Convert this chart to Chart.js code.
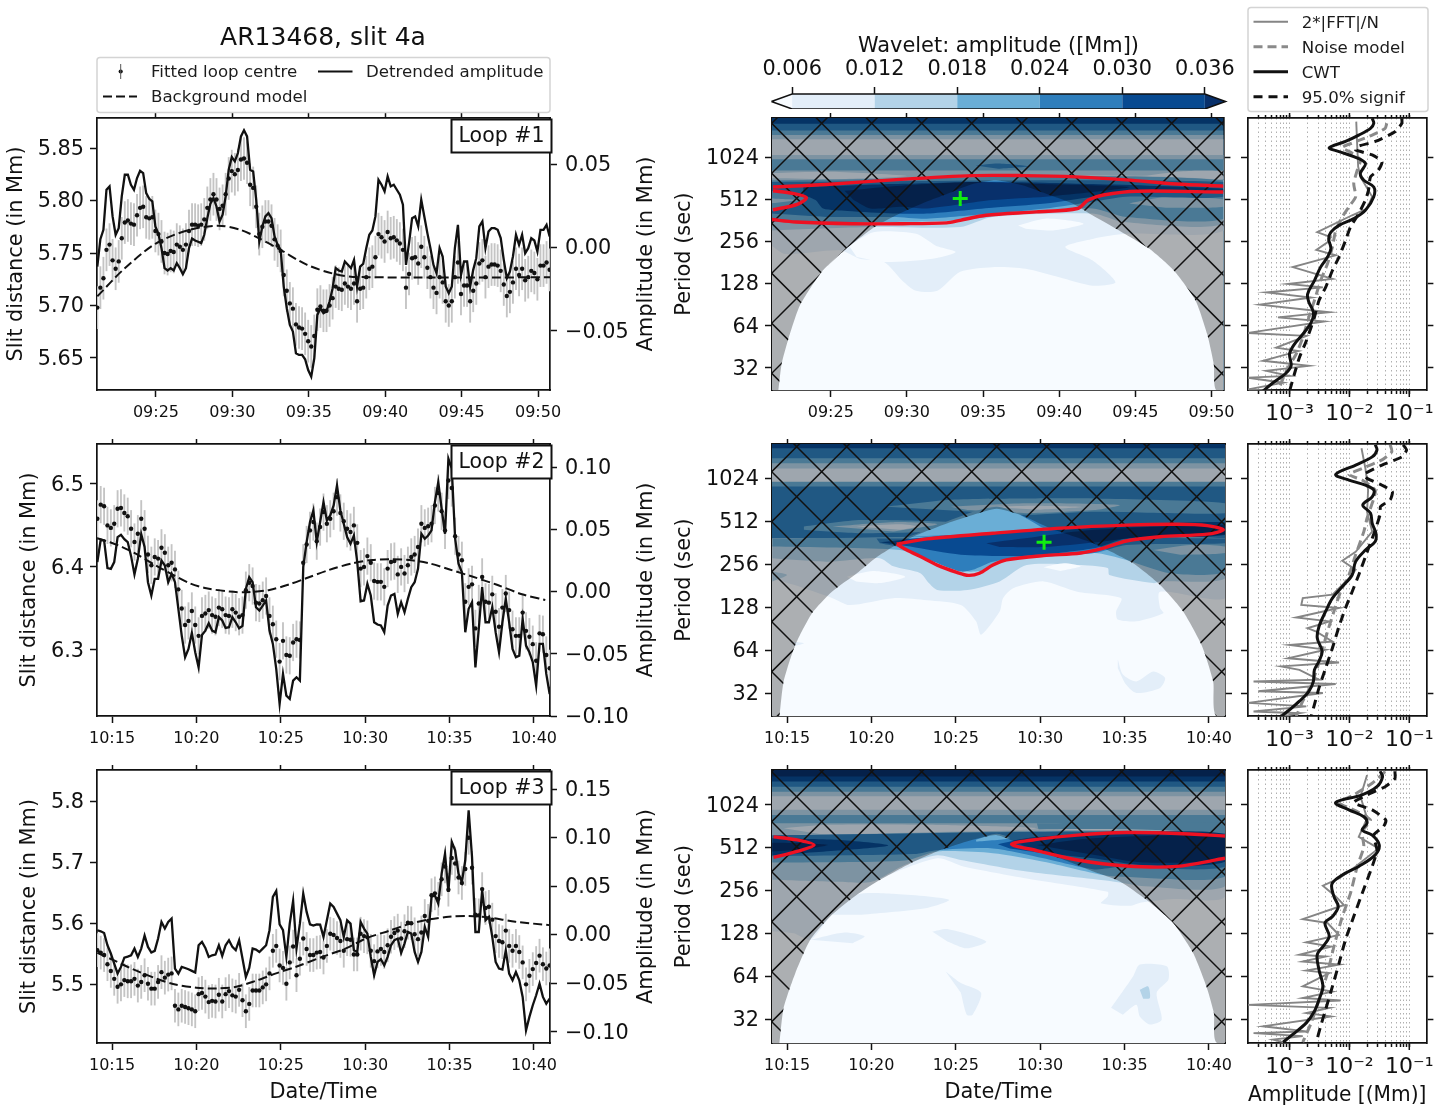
<!DOCTYPE html>
<html>
<head>
<meta charset="utf-8">
<title>AR13468, slit 4a</title>
<script src="https://cdn.jsdelivr.net/npm/chart.js@4"></script>
<style>
body { margin: 0; background: #fff; }
canvas { position: absolute; filter: blur(0.35px); }
</style>
</head>
<body>
<script>
// Time axes are minutes since midnight, period axes are log2(seconds)
const CADENCE = 0.2;
const timeTicks1 = [565, 570, 575, 580, 585, 590];
const timeTicks23 = [615, 620, 625, 630, 635, 640];
const periodTicks = [32, 64, 128, 256, 512, 1024];
const ampTicks = [1e-3, 1e-2, 1e-1];
const colorbarLevels = [0.006, 0.012, 0.018, 0.024, 0.030, 0.036];

// Loop #1
const loop1Start = 561.16;
const loop1Err = 0.02;
const loop1Amp = [-.0114,.005,.0106,.0346,.0366,.0186,.0076,.0116,.0306,.0436,.0436,.0376,.0346,.0416,.046,.0446,.0326,.0292,.0276,.0126,.0082,-.0004,-.0124,-.0138,-.0124,-.0138,-.0094,-.0124,-.016,-.0124,-.0004,.0054,.0042,.0034,.0026,.0076,.0176,.0262,.0296,.0246,.0156,.0196,.0306,.0466,.0542,.0516,.0566,.0666,.0702,.0666,.0466,.0456,.0286,.0036,.0126,.0186,.0206,.0176,.0066,.0016,-.0014,-.0234,-.0364,-.0464,-.0504,-.0634,-.0644,-.0644,-.067,-.0734,-.0774,-.0664,-.0404,-.0364,-.0394,-.0384,-.0324,-.0244,-.0124,-.0138,-.0144,-.0084,-.0104,-.0124,-.0074,-.0234,-.0114,-.0098,-.0004,.0076,.0102,.0186,.0406,.0376,.0336,.0426,.0366,.0376,.0346,.0316,.0256,-.0104,.0026,.0176,.0186,.0126,.0286,.0186,.0086,-.0004,-.0104,-.0154,-.0004,-.0054,-.0234,-.0274,-.0234,-.0004,.0136,-.0164,-.0084,-.0084,-.0234,-.0134,-.0064,.0126,.0156,-.0004,.0096,.0116,.0116,.0106,.0056,-.0074,-.0184,-.0144,-.0054,.0076,.0016,.0076,-.0034,-.0004,.0056,.0042,-.0024,.0106,.0106,.0136,.0066];
const loop1Fit = [5.698,5.717,5.726,5.753,5.758,5.743,5.735,5.742,5.764,5.779,5.781,5.778,5.777,5.786,5.793,5.794,5.784,5.783,5.784,5.771,5.768,5.761,5.750,5.749,5.752,5.751,5.758,5.756,5.753,5.758,5.771,5.777,5.777,5.776,5.777,5.782,5.793,5.801,5.806,5.801,5.792,5.795,5.806,5.821,5.828,5.825,5.829,5.839,5.840,5.836,5.815,5.812,5.794,5.768,5.775,5.780,5.780,5.776,5.763,5.757,5.752,5.729,5.714,5.702,5.697,5.682,5.679,5.678,5.673,5.666,5.661,5.671,5.696,5.699,5.695,5.695,5.700,5.707,5.718,5.716,5.715,5.721,5.718,5.716,5.721,5.704,5.716,5.717,5.727,5.735,5.737,5.746,5.768,5.765,5.761,5.770,5.764,5.765,5.762,5.759,5.753,5.717,5.730,5.745,5.746,5.740,5.756,5.746,5.736,5.727,5.717,5.712,5.727,5.722,5.704,5.700,5.704,5.727,5.741,5.711,5.719,5.719,5.704,5.714,5.721,5.740,5.743,5.727,5.737,5.739,5.739,5.738,5.733,5.720,5.709,5.713,5.722,5.735,5.729,5.735,5.724,5.727,5.733,5.731,5.725,5.738,5.738,5.741,5.734];
const loop1BgTime = [561.16,562.86,565.04,567.23,569.08,570.5,571.59,573.12,574.86,576.61,578.13,590.83];
const loop1BgValue = [5.7087,5.7341,5.7595,5.7722,5.776,5.7722,5.7652,5.7532,5.7389,5.7303,5.7271,5.7268];

// Loop #2
const loop2Start = 614.13;
const loop2Err = 0.022;
const loop2Amp = [.0236,.0416,.041,.0188,.0182,.0236,.0437,.0456,.0421,.0397,.0284,.0137,.0263,.0461,.0357,.0075,-.0032,.0102,.0102,.0249,.0209,.0075,.0142,.0075,-.0139,-.0354,-.0528,-.0461,-.0332,-.0488,-.0609,-.0349,-.0314,-.0255,-.0314,-.0327,-.0206,-.0233,-.0292,-.0287,-.0206,-.0247,-.0295,-.0276,.0021,.0115,.0075,-.0126,-.0153,-.0113,-.0072,-.0314,-.0421,-.0622,-.0903,-.0662,-.0836,-.0863,-.0716,-.0689,-.0716,.0196,.0397,.0558,.0651,.0397,.0558,.0718,.0571,.0611,.0692,.0853,.0651,.0544,.0437,.0383,.045,.0236,-.0078,-.0072,.0062,-.0032,-.0247,-.0265,-.0273,-.0327,-.0113,-.0032,-.0019,-.018,-.0086,-.0166,-.0059,.0035,.0075,.0182,.0464,.0424,.045,.0491,.0718,.0879,.0665,.0464,.1067,.0987,.0424,.0223,.0155,-.0327,-.0139,-.0086,-.0609,-.03,.0035,-.0247,-.0247,-.0126,-.0327,-.0488,-.0247,-.0059,-.0247,-.0461,-.0528,-.0515,-.022,-.0434,-.0488,-.0568,-.0756,-.0421,-.0421,-.0662,-.0823];
const loop2Fit = [6.458,6.475,6.473,6.450,6.447,6.452,6.470,6.471,6.465,6.461,6.446,6.430,6.440,6.458,6.446,6.415,6.402,6.412,6.410,6.423,6.417,6.402,6.405,6.397,6.373,6.350,6.330,6.335,6.347,6.330,6.317,6.341,6.344,6.348,6.342,6.340,6.351,6.349,6.342,6.341,6.349,6.345,6.340,6.342,6.372,6.381,6.377,6.357,6.356,6.360,6.365,6.341,6.331,6.313,6.286,6.311,6.294,6.293,6.309,6.313,6.312,6.405,6.427,6.444,6.454,6.431,6.448,6.466,6.452,6.458,6.467,6.484,6.465,6.455,6.446,6.442,6.450,6.429,6.398,6.400,6.413,6.405,6.383,6.382,6.382,6.376,6.398,6.406,6.407,6.391,6.400,6.392,6.402,6.412,6.415,6.424,6.452,6.447,6.449,6.452,6.474,6.489,6.467,6.444,6.504,6.495,6.437,6.415,6.408,6.358,6.376,6.379,6.326,6.356,6.388,6.358,6.357,6.367,6.346,6.328,6.351,6.368,6.348,6.325,6.317,6.317,6.345,6.323,6.316,6.307,6.287,6.320,6.319,6.294,6.278];
const loop2BgTime = [614.13,614.88,615.67,616.46,617.64,618.62,619.61,620.59,621.97,622.95,624.33,625.51,626.5,627.87,629.25,630.43,631.42,632.6,633.78,634.96,636.34,637.72,639.29,640.67];
const loop2BgValue = [6.4345,6.4297,6.4233,6.4153,6.4012,6.3904,6.3803,6.3743,6.3703,6.3695,6.3723,6.3791,6.3863,6.3964,6.4044,6.4084,6.4092,6.4084,6.4044,6.3972,6.3884,6.3791,6.3671,6.3602];

// Loop #3
const loop3Start = 614.13;
const loop3Err = 0.027;
const loop3Amp = [.0045,.0034,.0017,-.011,-.0195,-.0299,-.0402,-.0333,-.0237,-.0227,-.0213,-.0144,-.023,-.0144,-.001,-.0127,-.0185,-.0168,-.0041,.013,.0062,.013,.0165,-.035,-.0402,-.0333,-.0344,-.0357,-.0374,-.0391,-.011,-.0076,-.0137,-.023,-.0213,-.0206,-.011,-.022,-.011,-.0058,-.0127,-.0161,-.0058,-.0247,-.0436,-.0344,-.0144,-.0155,-.0179,-.0144,-.011,.0045,.0388,.045,.0106,.0045,-.023,.0113,.0347,-.0144,.0113,.0422,.0234,.0106,.0093,.0106,.0103,-.0024,.0148,.0319,.0285,.0216,.0148,-.0024,.0148,.0113,-.0161,-.0179,.013,.0062,.001,-.023,-.0419,-.0282,-.0254,-.0316,-.023,-.011,-.0058,-.0041,-.0189,-.0093,.0027,.001,-.0179,-.0282,-.0179,.0079,-.0024,.0388,.0405,.0319,.0628,.0834,.044,.0955,.0869,.0628,.0543,.0766,.128,.08,.0027,.0027,.0457,.0148,.0182,-.0024,-.0282,-.035,-.0361,-.0161,-.0402,-.0471,-.0385,-.0471,-.0642,-.0986,-.0848,-.0728,-.0625,-.0505,-.0642,-.0711,-.0659];
const loop3Fit = [5.556,5.552,5.548,5.533,5.522,5.509,5.496,5.500,5.507,5.505,5.505,5.509,5.498,5.504,5.515,5.501,5.493,5.493,5.504,5.520,5.511,5.516,5.518,5.465,5.459,5.465,5.463,5.461,5.459,5.456,5.484,5.486,5.480,5.471,5.473,5.472,5.483,5.472,5.484,5.489,5.482,5.480,5.491,5.474,5.456,5.468,5.490,5.490,5.490,5.495,5.500,5.518,5.555,5.563,5.531,5.527,5.501,5.536,5.562,5.515,5.542,5.575,5.558,5.548,5.548,5.552,5.553,5.544,5.563,5.583,5.581,5.576,5.571,5.555,5.574,5.573,5.549,5.549,5.583,5.579,5.577,5.555,5.538,5.554,5.558,5.553,5.564,5.578,5.584,5.588,5.575,5.587,5.601,5.600,5.582,5.574,5.585,5.612,5.604,5.646,5.649,5.640,5.672,5.693,5.655,5.707,5.698,5.675,5.666,5.689,5.740,5.691,5.614,5.613,5.656,5.625,5.627,5.606,5.579,5.571,5.569,5.588,5.563,5.555,5.563,5.553,5.536,5.500,5.514,5.525,5.535,5.547,5.533,5.526,5.531];
const loop3BgTime = [614.13,615.28,616.26,617.44,618.62,620,621.18,622.36,623.54,624.72,625.91,627.48,628.86,630.04,631.42,632.6,633.78,634.96,636.14,637.32,638.9,640.91];
const loop3BgValue = [5.5518,5.5371,5.5245,5.5114,5.5005,5.4945,5.4934,5.4961,5.506,5.518,5.5289,5.5452,5.5589,5.5752,5.5878,5.5987,5.6063,5.6107,5.6118,5.6096,5.6025,5.597];

// Wavelet amplitude contours, [level, [[minute, log2 period], ...]]; levels index the colorbar bands
const wav1BandTops = [10.93,10.79,10.63,10.52,10.42,10.05,9.95,9.68,9.45];
const wav1BandLevels = [5,4,3,2,1,2,3,2,0];
const wav1Contours = [
  [1, [[585.5,9.55],[588,9.66],[590.8,9.65],[590.8,9.48],[588,9.48]]],
  [1, [[561.1,9.62],[565,9.65],[570,9.55],[566,9.48],[561.1,9.5]]],
  [4, [[574.5,9.8],[576,9.85],[578,9.78],[576,9.72]]],
  [1, [[561.1,9.45],[590.8,9.45],[590.8,8.26],[584.4,8.18],[582.2,8.06],[580.4,7.87],[582.2,7.55],[583.7,7.03],[582.2,6.95],[580,7.15],[577.8,7.35],[575.6,7.39],[573.5,7.28],[572,6.83],[570.6,6.83],[569.7,7.07],[568.5,7.51],[566.9,7.59],[565.6,7.79],[562,7.7],[561.1,7.9]]],
  [0, [[566.2,7.9],[567.8,8.22],[570.6,8.18],[571.9,7.9],[573.2,7.75],[571.7,7.59],[568.5,7.51],[566.7,7.63]]],
  [0, [[577.3,8.38],[579.1,8.54],[581.6,8.42],[579.6,8.26],[577.8,8.3]]],
  [2, [[561.1,9.45],[590.8,9.45],[590.8,8.42],[584.2,8.46],[582.2,8.66],[575.6,8.58],[573.5,8.34],[567.8,8.34],[561.1,8.26]]],
  [3, [[561.1,9.45],[590.8,9.45],[590.8,8.54],[584.4,8.58],[582.2,8.78],[577.8,8.7],[573.5,8.5],[569.1,8.46],[561.1,8.46]]],
  [2, [[584.6,8.9],[587,9.05],[590.8,9.0],[590.8,8.82],[587,8.8]]],
  [4, [[561.1,9.41],[590.8,9.41],[590.8,9.06],[584.4,9.06],[582.2,8.94],[579.1,8.78],[575.6,8.66],[571.3,8.54],[569.1,8.58],[564.7,8.58],[561.1,8.66]]],
  [3, [[561.1,9.2],[562.5,9.12],[563.3,9.02],[562.5,8.82],[561.1,8.72]]],
  [2, [[561.1,9.02],[562.8,8.98],[561.1,8.9]]],
  [5, [[563.2,9.29],[569.1,9.36],[575.6,9.41],[582.2,9.36],[590.8,9.25],[590.8,9.17],[584.4,9.17],[582.2,9.06],[579.1,8.9],[575.6,8.8],[571.3,8.66],[569.1,8.66],[566.1,8.72],[564.5,8.78],[564,8.98],[563.2,9.1]]],
  [6, [[565.9,9.2],[569.1,9.31],[574.3,9.41],[578.9,9.36],[584.6,9.29],[582.2,9.17],[579.1,9.06],[575.6,8.98],[571.3,8.78],[569.7,8.82],[567.6,8.78],[566.5,8.98]]]
];
const wav1Coi = [[561.55,4.45],[561.77,5.09],[562.21,5.68],[562.97,6.48],[564.39,7.27],[566.03,7.83],[567.88,8.34],[569.52,8.66],[571.27,8.94],[572.58,9.12],[574.32,9.36],[575.85,9.45],[577.6,9.33],[579.35,9.1],[580.87,8.9],[582.18,8.62],[583.93,8.26],[585.9,7.83],[587.53,7.31],[588.95,6.6],[589.72,5.8],[590.15,5.09],[590.39,4.45]];
const wav1Signif = [
  [[561.2,9.29],[564.7,9.35],[569.1,9.46],[574.3,9.56],[577.6,9.56],[581.1,9.53],[584.4,9.46],[587.7,9.36],[590.8,9.31]],
  [[590.8,9.17],[585.1,9.19],[582.9,9.1],[581.9,8.98],[581.2,8.78],[578.5,8.7],[575.2,8.62],[573.5,8.5],[572.6,8.44],[569.7,8.42],[566.4,8.42],[562.7,8.46],[561.1,8.52]],
  [[561.2,9.2],[562.5,9.14],[563.4,9.04],[562.8,8.88],[561.2,8.75]]
];
const wav1Peak = [573.5, 9.02];

const wav2BandTops = [10.8,10.7,10.47,10.35,10.23,9.92,9.81,8.6];
const wav2BandLevels = [5,4,3,2,1,3,4,0];
const wav2Contours = [
  [3, [[620.9,9.34],[624.7,9.5],[629.2,9.53],[633.2,9.53],[640.95,9.42],[640.95,9.19],[633.2,9.22],[629.2,9.15],[625.3,9.24]]],
  [2, [[624.7,9.34],[629.2,9.42],[634.7,9.38],[633.2,9.26],[629.2,9.19],[625.7,9.26]]],
  [1, [[627,9.33],[629.5,9.36],[632.5,9.33],[630,9.27]]],
  [3, [[616,8.88],[619.4,9.03],[626,8.95],[626,8.8],[619.4,8.72],[616,8.8]]],
  [2, [[617.7,8.88],[621.3,8.98],[623.9,8.93],[621.3,8.76]]],
  [1, [[619.1,8.88],[621.7,8.93],[622.7,8.88],[621.7,8.8]]],
  [3, [[622.2,8.64],[627.4,9.34],[630.5,8.78]]],
  [1, [[614.13,8.29],[640.95,8.29],[640.95,7.21],[637.1,7.36],[637.1,6.98],[637.3,6.86],[635.7,6.67],[634.6,6.71],[634.5,6.9],[634.8,7.21],[632.2,7.36],[630.2,7.6],[628.4,7.44],[627.8,7.21],[627.6,6.9],[626.5,6.36],[626.2,6.67],[625.3,7.05],[623.3,7.16],[621.3,7.21],[618.7,7.05],[617.7,7.21],[615.4,7.52],[614.13,7.67]]],
  [2, [[614.13,8.45],[640.95,8.45],[640.95,7.67],[637.1,7.6],[636.7,7.56],[634.1,7.75],[634,7.91],[632.2,7.98],[629.2,7.98],[627.6,7.6],[625.7,7.4],[623.9,7.4],[623.4,7.56],[622.9,7.79],[621.3,7.95],[620.5,8.14],[617.5,8.06],[614.13,8.14]]],
  [0, [[618.55,7.71],[620.1,7.84],[622,7.71],[620.5,7.56],[619.1,7.6]]],
  [0, [[630.2,7.93],[631.4,8.02],[632.4,7.95],[631.2,7.84]]],
  [3, [[614.13,8.6],[640.95,8.6],[640.95,7.83],[637.7,7.79],[635.1,8.1],[633.2,8.26],[629.2,8.15],[627.6,8.1],[626.8,7.87],[625.7,7.83],[624.5,7.98],[623.1,8.14],[621.7,8.33],[614.13,8.41]]],
  [2, [[636.7,8.33],[638.9,8.45],[640.95,8.41],[640.95,8.26],[638.3,8.22]]],
  [4, [[620.3,8.6],[640.95,8.6],[640.95,8.49],[635.1,8.45],[633.2,8.26],[629.2,8.15],[627.2,8.06],[626,7.87],[625.3,7.83],[623.7,8.06],[622.5,8.26],[621.5,8.41],[620.5,8.49]]],
  [5, [[620.5,8.51],[623.7,8.64],[631.2,8.8],[640.95,8.98],[640.95,8.68],[635.1,8.6],[633.2,8.37],[629.2,8.2],[625.3,8.22],[622.3,8.41]]],
  [6, [[626.8,8.49],[629.8,8.64],[633.2,8.8],[640.95,8.91],[640.95,8.7],[636.1,8.64],[633.3,8.51],[630.2,8.4],[627.6,8.4]]],
  [1, [[634.6,5.78],[634.9,5.43],[635.7,5.27],[636.7,5.5],[637.4,5.35],[637.1,5.12],[635.7,5],[635.1,5.19],[634.6,5.58]]],
  [1, [[615.2,6.2],[616,6.16],[615.4,6.09]]],
  [2, [[614.13,7.83],[615,7.75],[614.13,7.6]]]
];
const wav2Coi = [[614.55,4.45],[614.8,5.27],[615.49,6.12],[616.48,6.86],[617.66,7.36],[619.14,7.79],[620.23,8.14],[621.31,8.41],[622.69,8.68],[624.47,8.95],[626.05,9.15],[627.43,9.29],[628.81,9.15],[630.58,8.84],[633.15,8.49],[635.51,8.02],[637.09,7.52],[638.47,6.9],[639.56,6.12],[640.25,5.27],[640.5,4.45]];
const wav2Signif = [
  [[621.5,8.47],[623.3,8.59],[627.2,8.72],[631.2,8.84],[635.1,8.91],[638.1,8.93],[639.9,8.9],[640.85,8.8],[639.9,8.7],[637.1,8.64],[635.1,8.54],[633.7,8.37],[632.4,8.26],[630.2,8.2],[628,8.1],[627.2,7.98],[626.4,7.79],[625.75,7.74],[625.06,7.81],[623.9,7.98],[622.9,8.18],[622.1,8.33],[621.5,8.47]]
];
const wav2Peak = [630.23, 8.51];

const wav3BandTops = [10.81,10.66,10.54,10.42,10.3,10.2,9.88,9.76,9.57,9.29];
const wav3BandLevels = [6,5,4,3,2,1,2,3,2,0];
const wav3Contours = [
  [3, [[629.8,9.57],[640.95,9.57],[640.95,9.29],[630,9.29]]],
  [1, [[614.8,9.45],[617.4,9.53],[623.3,9.53],[629.8,9.45],[623.3,9.29],[617.4,9.29]]],
  [1, [[614.13,9.29],[640.95,9.29],[640.95,7.85],[637.9,7.8],[636,7.72],[635.3,7.64],[633.6,7.7],[634,7.86],[634,7.97],[629.2,8.28],[625.45,8.56],[623.9,8.75],[620.5,8.25],[617.66,7.43],[616.4,6.85],[615.4,7],[614.13,7.05]]],
  [2, [[614.13,9.29],[640.95,9.29],[640.95,8.1],[636.2,8.1],[634.3,8.21],[629.2,8.44],[625.3,8.71],[623.9,8.82],[622,8.6],[620,8.2],[618,8.2],[614.13,8.25]]],
  [3, [[614.13,9.29],[640.95,9.29],[640.95,8.32],[634.9,8.32],[633.7,8.36],[630.2,8.67],[627.2,8.87],[623.9,8.91],[622,8.7],[614.13,8.65]]],
  [4, [[614.13,9.29],[640.95,9.29],[640.95,8.55],[634.7,8.55],[633.2,8.49],[630.2,8.75],[627.2,8.98],[623.9,8.94],[622.5,8.85],[614.13,8.8]]],
  [3, [[626.2,9.18],[627.4,9.32],[628.2,9.22],[626.2,9.14]]],
  [5, [[614.13,9.22],[618,9.18],[621,9.05],[618,8.93],[614.13,8.82]]],
  [5, [[627.5,9.08],[629.2,9.22],[633.15,9.32],[640.95,9.32],[640.95,8.67],[636.1,8.59],[633.15,8.75],[630.2,8.87],[628.2,8.98]]],
  [6, [[629.8,9.06],[633.15,9.22],[640.95,9.24],[640.95,8.75],[636.1,8.65],[633.15,8.83]]],
  [6, [[614.13,9.11],[616,9.1],[617.4,9.06],[616,8.96],[614.13,8.91]]],
  [1, [[617.7,7.43],[619.1,7.9],[621.3,7.92],[624.6,7.78],[623.3,7.59],[619.4,7.43]]],
  [1, [[616.4,6.85],[618.4,7.02],[619.6,6.93],[618.9,6.77]]],
  [1, [[623.6,7.04],[624.5,7.1],[626.8,6.81],[625.65,6.65],[624.5,6.81]]],
  [1, [[624.4,6.11],[625.3,5.84],[626.5,5.61],[626,5.1],[625.65,5.1],[625.3,5.61]]],
  [1, [[634.2,5.26],[635.5,5.99],[635.9,6.27],[637.5,6.23],[637.6,5.92],[636.9,5.61],[637.2,4.98],[636.5,4.87],[635.9,5.06],[635.7,5.33],[634.9,5.1]]],
  [2, [[635.9,5.68],[636.4,5.76],[636.5,5.49],[636.1,5.47]]]
];
const wav3Coi = [[614.55,4.44],[614.8,5.26],[615.49,6.07],[616.38,6.85],[617.66,7.43],[619.14,7.9],[620.52,8.25],[622.3,8.63],[623.88,8.91],[625.65,9.14],[627.43,9.29],[629.2,9.02],[631.17,8.75],[633.15,8.44],[634.72,8.21],[636.3,7.78],[637.88,7.24],[639.06,6.54],[639.85,5.76],[640.29,5.14],[640.5,4.44]];
const wav3Signif = [
  [[614.2,9.25],[615.6,9.18],[616.6,9.06],[615.6,8.91],[614.2,8.77]],
  [[640.95,9.27],[638.1,9.33],[635.1,9.35],[632.2,9.29],[629.8,9.19],[628.3,9.08],[629.8,8.93],[632.2,8.71],[635.1,8.57],[638.1,8.56],[640.95,8.75]]
];

// Global spectra, one list of log2 periods and one of amplitudes per line
const spec1CwtPeriod = [10.92,10.80,10.68,10.52,10.37,10.22,10.13,10.01,9.85,9.61,9.45,9.29,9.06,8.74,8.54,8.38,8.22,8.06,7.83,7.63,7.39,7.07,6.75,6.56,6.32,6.08,5.80,5.56,5.33,5.05,4.85,4.65,4.45];
const spec1CwtAmp = [.024,.0255,.0225,.0143,.0086,.0046,.0067,.0118,.0185,.0152,.0174,.0255,.0255,.0185,.0118,.0067,.0049,.0045,.0049,.0043,.0033,.0026,.002,.0021,.0025,.0023,.00166,.0012,.001,.00106,.00083,.00053,.00036];
const spec1SigPeriod = [10.92,10.8,10.6,10.37,10.25,10.17,10.05,9.89,9.69,9.53,9.21,8.98,8.66,8.34,8.02,7.63,7.31,6.91,6.6,6.2,5.64,5.25,4.85,4.45];
const spec1SigAmp = [.075,.075,.0575,.027,.0135,.0127,.024,.035,.0305,.0225,.0208,.0185,.0143,.0104,.0086,.0067,.0052,.004,.0031,.0026,.0019,.00146,.0012,.001];
const spec1NoisePeriod = [10.8,10.68,10.52,10.33,10.23,10.09,9.93,9.69,9.37,9.06,8.82,8.58,8.26,7.87,7.47,7.07,6.6,6.2,5.72,5.33,4.93,4.45];
const spec1NoiseAmp = [.042,.0395,.024,.0111,.0076,.0111,.0153,.0135,.0118,.0127,.0098,.0076,.0059,.0052,.0043,.0033,.0026,.0021,.00166,.00129,.00088,.00064];
const spec1FftPeriod = [10.84,10.25,9.77,9.53,9.06,8.78,8.62,8.22,8.1,7.98,7.8,7.67,7.39,7.11,6.99,6.91,6.79,6.67,6.5,6.32,6.2,6.1,5.83,5.76,5.48,5.4,5.17,5.05,4.93,4.81,4.77,4.65,4.49,4.45];
const spec1FftAmp = [.013,.0135,.014,.0153,.024,.0197,.0111,.0029,.0049,.0043,.0028,.0059,.00113,.0052,.00094,.0036,.00041,.0023,.00032,.0046,.00064,.0038,.0002,.0019,.0006,.0014,.00036,.0021,.00041,.001,.0002,.00078,.0002,.00064];

const spec2CwtPeriod = [10.78,10.66,10.5,10.31,10.09,9.96,9.84,9.73,9.57,9.38,9.19,8.95,8.72,8.53,8.33,8.06,7.75,7.48,7.21,6.9,6.55,6.28,5.97,5.74,5.54,5.27,5.04,4.81,4.61,4.46];
const spec2CwtAmp = [.027,.0288,.024,.0127,.0059,.0098,.0185,.0255,.024,.0167,.0225,.024,.0277,.027,.0185,.0127,.0111,.0076,.0052,.004,.0031,.0029,.0035,.0031,.0026,.0025,.0021,.00146,.001,.00073];
const spec2SigPeriod = [10.78,10.66,10.5,10.31,10.09,10,9.84,9.69,9.5,9.34,9.19,8.8,8.37,7.75,7.36,6.98,6.55,6.05,5.58,5.12,4.73,4.46];
const spec2SigAmp = [.079,.09,.075,.035,.0174,.0197,.035,.052,.048,.033,.033,.027,.0208,.0143,.0111,.0086,.0067,.0052,.004,.0031,.0026,.0023];
const spec2NoisePeriod = [10.78,10.62,10.43,10.23,10.09,9.96,9.73,9.53,9.07,8.76,8.22,7.75,7.36,6.9,6.43,6.05,5.58,5.19,4.81,4.46];
const spec2NoiseAmp = [.048,.051,.035,.0163,.0098,.0163,.027,.0255,.0197,.0174,.0127,.0098,.0071,.0055,.0043,.0036,.0029,.0023,.00166,.00129];
const spec2FftPeriod = [10.7,10.23,9.73,9.22,8.76,8.29,8.08,7.87,7.67,7.29,7.21,7.05,6.98,6.76,6.67,6.59,6.51,6.43,6.2,6.12,6.01,5.81,5.71,5.62,5.54,5.31,5.27,5.21,5.04,5,4.77,4.69,4.57,4.53,4.46];
const spec2FftAmp = [.0159,.0185,.0205,.0197,.024,.0127,.0076,.0127,.0098,.0052,.00166,.00157,.0067,.00129,.0046,.0031,.002,.0028,.0052,.001,.004,.00094,.0067,.00073,.00146,.0031,.00025,.0059,.0003,.0036,.0002,.0019,.00025,.00146,.00078];

const spec3CwtPeriod = [10.78,10.65,10.42,10.23,10.05,9.88,9.72,9.57,9.41,9.29,9.06,8.83,8.56,8.36,8.15,7.86,7.62,7.39,7.24,6.93,6.73,6.5,6.15,5.76,5.45,5.18,4.91,4.64,4.46];
const spec3CwtAmp = [.0326,.0357,.0288,.0163,.0059,.0098,.0174,.0197,.0163,.024,.0315,.027,.0143,.0076,.0051,.0055,.0065,.0052,.0039,.0046,.0038,.0029,.0031,.0036,.0031,.0026,.0019,.00113,.00078];
const spec3SigPeriod = [10.78,10.61,10.42,10.23,10.05,9.88,9.64,9.49,9.29,8.94,8.56,7.93,7.39,6.85,6.3,5.76,5.22,4.83,4.46];
const spec3SigAmp = [.0575,.0575,.0395,.0197,.0118,.024,.0405,.037,.0255,.0288,.024,.0163,.0118,.0086,.0067,.0052,.004,.0033,.0028];
const spec3NoisePeriod = [10.77,10.5,10.23,10.05,9.84,9.64,9.37,9.02,8.56,7.93,7.39,6.69,6.07,5.45,4.91,4.46];
const spec3NoiseAmp = [.0395,.024,.0118,.0067,.0135,.0225,.0163,.0174,.0135,.0104,.0076,.0055,.0043,.0031,.0023,.00166];
const spec3FftPeriod = [10.69,10.19,9.68,9.25,8.98,8.56,8.28,8.11,7.86,7.66,7.33,7.24,6.96,6.79,6.69,6.5,6.46,6.34,6.27,6.13,6.07,5.76,5.64,5.49,5.43,5.33,5.26,5.14,5.06,4.83,4.71,4.67,4.6,4.52,4.46];
const spec3FftAmp = [.0197,.0153,.0197,.0143,.0306,.0127,.0067,.0036,.0059,.0081,.00166,.0043,.0067,.0019,.0049,.00146,.004,.00166,.0067,.0019,.0046,.00166,.0052,.00166,.0071,.0002,.0046,.0019,.0049,.00036,.0019,.00025,.00166,.00053,.00078];

const LEVEL_COLORS = ['#f7fbff', '#e3eef9', '#b3d3e8', '#6aaed6', '#2e7ebc', '#084a91', '#08306b'];
const INK = '#111';
const FONT = '"DejaVu Sans"';
const FRAME = 1.7;

function hhmm(v) {
    const h = Math.floor(v / 60);
    const m = Math.round(v - h * 60);
    return String(h).padStart(2, '0') + ':' + String(m).padStart(2, '0');
}

function signed(v, digits) {
    return (v < 0 ? '\u2212' : '') + Math.abs(v).toFixed(digits);
}

function pairs(xs, ys) {
    return xs.map((x, i) => ({ x: x, y: ys[i] }));
}

function frameScale(position, size, o) {
    const labels = o.format !== undefined;
    const horizontal = position === 'top' || position === 'bottom';
    return {
        type: o.type || 'linear',
        axis: horizontal ? 'x' : 'y',
        position: position,
        min: o.min,
        max: o.max,
        offset: false,
        border: { display: true, color: INK, width: FRAME, dash: o.dash || [] },
        grid: {
            display: true,
            offset: false,
            drawOnChartArea: !!o.gridColor,
            color: o.gridColor || INK,
            lineWidth: 1,
            drawTicks: true,
            tickLength: o.tickLength || 7,
            tickWidth: 1.5,
            tickColor: INK
        },
        ticks: {
            display: labels,
            autoSkip: false,
            maxRotation: 0,
            minRotation: 0,
            padding: o.padding === undefined ? 6 : o.padding,
            labelOffset: horizontal ? 0 : 1.5,
            color: INK,
            font: { family: FONT, size: o.fontSize || 20.8 },
            callback: labels ? o.format : undefined
        },
        title: o.title ? {
            display: true,
            text: o.title,
            color: INK,
            padding: 0,
            font: { family: FONT, size: 20.9 }
        } : { display: false },
        afterBuildTicks: scale => { scale.ticks = o.ticks.map(v => ({ value: v })); },
        afterFit: scale => {
            if (scale.isHorizontal()) scale.height = size; else scale.width = size;
        }
    };
}

function makeChart(rect, margin, scales, datasets, plugins) {
    const canvas = document.createElement('canvas');
    const left = rect.left - margin.left;
    const top = rect.top - margin.top;
    canvas.width = rect.width + margin.left + margin.right;
    canvas.height = rect.height + margin.top + margin.bottom;
    canvas.style.left = left + 'px';
    canvas.style.top = top + 'px';
    document.body.appendChild(canvas);
    datasets.forEach((d, i) => { d.order = datasets.length - i; });
    return new Chart(canvas.getContext('2d'), {
        type: 'scatter',
        data: { datasets: datasets },
        options: {
            responsive: false,
            animation: false,
            devicePixelRatio: 1,
            events: [],
            layout: { padding: 0 },
            scales: scales,
            plugins: { legend: { display: false }, tooltip: { enabled: false } }
        },
        plugins: (plugins || []).map((draw, i) => ({
            id: 'page' + i,
            afterDraw: chart => {
                chart.ctx.save();
                chart.ctx.translate(-left, -top);
                draw(chart.ctx, chart);
                chart.ctx.restore();
            }
        })).concat(hatchPlugin)
    });
}

// Cross-hatch over the cone of influence, anchored on one crossing of the pattern
const hatchPlugin = {
    id: 'coiHatch',
    afterDatasetDraw(chart, args) {
        const anchor = chart.data.datasets[args.index].hatchAnchor;
        if (!anchor) return;
        const ctx = chart.ctx;
        const area = chart.chartArea;
        ctx.save();
        ctx.beginPath();
        ctx.rect(area.left, area.top, area.right - area.left, area.bottom - area.top);
        ctx.clip();
        ctx.beginPath();
        args.meta.dataset.path(ctx);
        ctx.closePath();
        ctx.clip();
        ctx.strokeStyle = '#111';
        ctx.lineWidth = 1.5;
        const x0 = area.left + anchor[0];
        const y0 = area.top + anchor[1];
        const h = area.bottom - area.top;
        ctx.beginPath();
        for (let k = -20; k <= 20; k++) {
            const cx = x0 + k * 50;
            ctx.moveTo(cx - 400, y0 - 400);
            ctx.lineTo(cx + h + 400, y0 + h + 400);
            ctx.moveTo(cx + 400, y0 - 400);
            ctx.lineTo(cx - h - 400, y0 + h + 400);
        }
        ctx.stroke();
        ctx.restore();
    }
};

function label(ctx, text, x, y, size, rotate) {
    ctx.save();
    ctx.translate(x, y);
    if (rotate) ctx.rotate(-Math.PI / 2);
    ctx.font = size + 'px ' + FONT;
    ctx.fillStyle = INK;
    ctx.textAlign = 'center';
    ctx.textBaseline = 'middle';
    ctx.fillText(text, 0, 0);
    ctx.restore();
}

function legendFrame(ctx, x, y, w, h) {
    ctx.save();
    ctx.beginPath();
    ctx.roundRect(x, y, w, h, 3);
    ctx.fillStyle = 'rgba(255,255,255,0.85)';
    ctx.fill();
    ctx.strokeStyle = '#d4d4d4';
    ctx.lineWidth = 1.5;
    ctx.stroke();
    ctx.restore();
}

function legendText(ctx, text, x, y) {
    ctx.save();
    ctx.font = '16.65px ' + FONT;
    ctx.fillStyle = '#1c1c1c';
    ctx.textAlign = 'left';
    ctx.textBaseline = 'middle';
    ctx.fillText(text, x, y + 1.5);
    ctx.restore();
}

function legendLine(ctx, x0, x1, y, color, width, dash) {
    ctx.save();
    ctx.strokeStyle = color;
    ctx.lineWidth = width;
    ctx.setLineDash(dash || []);
    ctx.beginPath();
    ctx.moveTo(x0, y);
    ctx.lineTo(x1, y);
    ctx.stroke();
    ctx.restore();
}

function loopBadge(text, rect) {
    return ctx => {
        const x = rect.left + rect.width - 98.5;
        const y = rect.top + 1.5;
        ctx.save();
        ctx.fillStyle = '#fff';
        ctx.strokeStyle = INK;
        ctx.lineWidth = 2;
        ctx.fillRect(x, y, 100, 33);
        ctx.strokeRect(x, y, 100, 33);
        ctx.restore();
        label(ctx, text, x + 50, y + 17, 20.5, false);
    };
}

function timeSeriesPanel(o) {
    const times = o.fit.map((v, i) => o.start + i * CADENCE);
    const datasets = [
        {
            type: 'bar',
            data: times.map((t, i) => ({ x: t, y: [o.fit[i] - o.err, o.fit[i] + o.err] })),
            backgroundColor: '#c4c4c4',
            barThickness: 1.2,
            xAxisID: 'x',
            yAxisID: 'y'
        },
        {
            data: pairs(o.bgTime, o.bgValue),
            showLine: true,
            borderColor: INK,
            borderWidth: 2,
            borderDash: [9, 4],
            tension: 0.3,
            pointRadius: 0,
            xAxisID: 'x',
            yAxisID: 'y'
        },
        {
            data: pairs(times, o.amp),
            showLine: true,
            borderColor: INK,
            borderWidth: 2.3,
            pointRadius: 0,
            xAxisID: 'x',
            yAxisID: 'yRight'
        },
        {
            data: pairs(times, o.fit),
            showLine: false,
            pointRadius: 2.2,
            pointBackgroundColor: INK,
            pointBorderWidth: 0,
            xAxisID: 'x',
            yAxisID: 'y'
        }
    ];
    const scales = {
        x: frameScale('bottom', o.margin.bottom, { min: o.tMin, max: o.tMax, ticks: o.timeTicks, format: hhmm, fontSize: 16, padding: 6, title: o.xTitle }),
        xTop: frameScale('top', o.margin.top, { min: o.tMin, max: o.tMax, ticks: o.timeTicks, tickLength: 5 }),
        y: frameScale('left', o.margin.left, { min: o.yMin, max: o.yMax, ticks: o.yTicks, format: v => v.toFixed(o.yDigits), title: 'Slit distance (in Mm)' }),
        yRight: frameScale('right', o.margin.right, { min: o.rMin, max: o.rMax, ticks: o.rTicks, format: v => signed(v, 2), padding: 8 })
    };
    const page = [loopBadge(o.badge, o.rect), ctx => {
        label(ctx, 'Amplitude (in Mm)', 646.5, o.rect.top + o.rect.height / 2, 21, true);
    }].concat(o.extra || []);
    makeChart(o.rect, o.margin, scales, datasets, page);
}

function fillPolygon(points, color, tension) {
    return {
        data: points.map(p => ({ x: p[0], y: p[1] })),
        showLine: true,
        fill: 'shape',
        backgroundColor: color,
        borderColor: 'transparent',
        borderWidth: 0,
        tension: tension,
        pointRadius: 0,
        xAxisID: 'x',
        yAxisID: 'y'
    };
}

function waveletPanel(o) {
    const datasets = [];
    o.bandTops.forEach((top, i) => {
        datasets.push(fillPolygon([[o.tMin, top], [o.tMax, top], [o.tMax, o.yMin], [o.tMin, o.yMin]], LEVEL_COLORS[o.bandLevels[i]], 0));
    });
    o.contours.forEach(c => datasets.push(fillPolygon(c[1], LEVEL_COLORS[c[0]], 0.25)));
    const outside = o.coi.concat([[o.tMax + 20, 3], [o.tMax + 20, 13], [o.tMin - 20, 13], [o.tMin - 20, 3]]);
    const coi = fillPolygon(outside, 'rgba(0,0,0,0.3)', 0.2);
    coi.hatchAnchor = o.hatchAnchor;
    datasets.push(coi);
    o.signif.forEach(line => {
        datasets.push({
            data: line.map(p => ({ x: p[0], y: p[1] })),
            showLine: true,
            borderColor: '#ee1122',
            borderWidth: 3.4,
            tension: 0.3,
            pointRadius: 0,
            xAxisID: 'x',
            yAxisID: 'y'
        });
    });
    if (o.peak) {
        datasets.push({
            data: [{ x: o.peak[0], y: o.peak[1] }],
            pointStyle: 'cross',
            pointRadius: 7.5,
            pointBorderColor: '#11ee11',
            pointBorderWidth: 3,
            xAxisID: 'x',
            yAxisID: 'y'
        });
    }
    const ticks = periodTicks.map(Math.log2);
    const scales = {
        x: frameScale('bottom', o.margin.bottom, { min: o.tMin, max: o.tMax, ticks: o.timeTicks, format: hhmm, fontSize: 16, padding: 6, title: o.xTitle }),
        xTop: frameScale('top', o.margin.top, { min: o.tMin, max: o.tMax, ticks: o.timeTicks, tickLength: 5 }),
        y: frameScale('left', o.margin.left, { min: o.yMin, max: o.yMax, ticks: ticks, format: v => String(Math.round(Math.pow(2, v))), title: 'Period (sec)' }),
        yRight: frameScale('right', o.margin.right, { min: o.yMin, max: o.yMax, ticks: ticks })
    };
    makeChart(o.rect, o.margin, scales, datasets);
}

const AMP_MIN = 2.02e-4;
const AMP_MAX = 0.193;
const ampGrid = [];
[1e-4, 1e-3, 1e-2].forEach(decade => {
    for (let m = 1; m <= 9; m++) {
        const v = m * decade;
        if (v >= 2.9e-4) ampGrid.push(v);
    }
});
ampGrid.push(1e-1);

function spectrumPanel(o) {
    const line = (xs, ys, color, width, dash, tension) => ({
        data: pairs(xs, ys),
        showLine: true,
        borderColor: color,
        borderWidth: width,
        borderDash: dash,
        tension: tension,
        pointRadius: 0,
        xAxisID: 'x',
        yAxisID: 'y'
    });
    const datasets = [
        line(o.fftAmp, o.fftPeriod, '#858585', 1.9, [], 0),
        line(o.noiseAmp, o.noisePeriod, '#8a8a8a', 3, [9, 5], 0.2),
        line(o.sigAmp, o.sigPeriod, INK, 3, [9, 6], 0.2),
        line(o.cwtAmp, o.cwtPeriod, INK, 3, [], 0.35)
    ];
    const ticks = periodTicks.map(Math.log2);
    const expLabel = v => {
        const e = Math.round(Math.log10(v));
        const isDecade = Math.abs(Math.log10(v) - e) < 1e-9;
        if (!isDecade) return '';
        return { '-3': '10\u207b\u00b3', '-2': '10\u207b\u00b2', '-1': '10\u207b\u00b9' }[e] || '';
    };
    const scales = {
        x: frameScale('bottom', o.margin.bottom, { type: 'logarithmic', min: AMP_MIN, max: AMP_MAX, ticks: ampGrid, format: expLabel, fontSize: 22, tickLength: 4, padding: 7, gridColor: '#b0b0b0', dash: [1.5, 3], title: o.xTitle }),
        xTop: frameScale('top', o.margin.top, { type: 'logarithmic', min: AMP_MIN, max: AMP_MAX, ticks: ampGrid, tickLength: 3 }),
        y: frameScale('left', o.margin.left, { min: o.yMin, max: o.yMax, ticks: ticks }),
        yRight: frameScale('right', o.margin.right, { min: o.yMin, max: o.yMax, ticks: ticks })
    };
    const decadeTicks = (ctx, chart) => {
        const area = chart.chartArea;
        const offX = parseFloat(chart.canvas.style.left);
        const offY = parseFloat(chart.canvas.style.top);
        ctx.strokeStyle = INK;
        ctx.lineWidth = 1.5;
        ctx.beginPath();
        ampTicks.forEach(v => {
            const px = chart.scales.x.getPixelForValue(v) + offX;
            ctx.moveTo(px, area.bottom + offY);
            ctx.lineTo(px, area.bottom + offY + 7);
            ctx.moveTo(px, area.top + offY);
            ctx.lineTo(px, area.top + offY - 5);
        });
        ctx.stroke();
    };
    makeChart(o.rect, o.margin, scales, datasets, [decadeTicks].concat(o.extra || []));
}

function colorbar() {
    const perUnit = (1204.3 - 792.7) / 0.03;
    const min = 0.006 - (792.7 - 772) / perUnit;
    const max = 0.036 + (1225 - 1204.3) / perUnit;
    const poly = (pts, color) => {
        const d = fillPolygon(pts, color, 0);
        d.clip = false;
        return d;
    };
    const datasets = [];
    datasets.push(poly([[min, 0.5], [colorbarLevels[0], 0], [colorbarLevels[0], 1]], LEVEL_COLORS[0]));
    for (let i = 0; i < colorbarLevels.length - 1; i++) {
        datasets.push(poly([[colorbarLevels[i], 0], [colorbarLevels[i + 1], 0], [colorbarLevels[i + 1], 1], [colorbarLevels[i], 1]], LEVEL_COLORS[i + 1]));
    }
    datasets.push(poly([[max, 0.5], [colorbarLevels[5], 0], [colorbarLevels[5], 1]], LEVEL_COLORS[6]));
    const last = colorbarLevels[5], first = colorbarLevels[0];
    datasets.push({
        data: [[min, 0.5], [first, 1], [last, 1], [max, 0.5], [last, 0], [first, 0], [min, 0.5]].map(p => ({ x: p[0], y: p[1] })),
        showLine: true,
        clip: false,
        borderColor: INK,
        borderWidth: 1.5,
        pointRadius: 0,
        xAxisID: 'x',
        yAxisID: 'y'
    });
    const x = frameScale('top', 60, { min: min, max: max, ticks: colorbarLevels, format: v => v.toFixed(3), padding: 5, title: 'Wavelet: amplitude ([Mm])' });
    x.border.display = false;
    const y = { type: 'linear', min: 0, max: 1, display: false };
    makeChart({ left: 772, top: 94, width: 453, height: 12 }, { left: 14, right: 14, top: 60, bottom: 3 }, { x: x, y: y }, datasets);
}

colorbar();

timeSeriesPanel({
    rect: { left: 97, top: 118, width: 453, height: 272 },
    margin: { left: 93, right: 110, top: 118, bottom: 36 },
    start: loop1Start, fit: loop1Fit, amp: loop1Amp, err: loop1Err, bgTime: loop1BgTime, bgValue: loop1BgValue,
    tMin: 561.14, tMax: 590.785, timeTicks: timeTicks1,
    yMin: 5.6195, yMax: 5.8786, yTicks: [5.65, 5.70, 5.75, 5.80, 5.85], yDigits: 2,
    rMin: -0.0854, rMax: 0.0776, rTicks: [-0.05, 0, 0.05],
    badge: 'Loop #1',
    extra: [ctx => {
        label(ctx, 'AR13468, slit 4a', 323, 38.5, 25, false);
        legendFrame(ctx, 97, 57.5, 453, 55);
        ctx.fillStyle = INK;
        ctx.beginPath();
        ctx.arc(120.7, 71.5, 2.1, 0, Math.PI * 2);
        ctx.fill();
        ctx.strokeStyle = '#555';
        ctx.lineWidth = 1;
        ctx.beginPath();
        ctx.moveTo(120.7, 64);
        ctx.lineTo(120.7, 79);
        ctx.stroke();
        legendText(ctx, 'Fitted loop centre', 151, 71.5);
        legendLine(ctx, 318, 352.5, 71.5, INK, 2);
        legendText(ctx, 'Detrended amplitude', 366, 71.5);
        legendLine(ctx, 103, 137, 96.5, INK, 1.9, [9, 4]);
        legendText(ctx, 'Background model', 151, 96.5);
    }]
});
timeSeriesPanel({
    rect: { left: 97, top: 444, width: 453, height: 272 },
    margin: { left: 80, right: 110, top: 30, bottom: 36 },
    start: loop2Start, fit: loop2Fit, amp: loop2Amp, err: loop2Err, bgTime: loop2BgTime, bgValue: loop2BgValue,
    tMin: 614.11, tMax: 640.95, timeTicks: timeTicks23,
    yMin: 6.2205, yMax: 6.548, yTicks: [6.3, 6.4, 6.5], yDigits: 1,
    rMin: -0.1, rMax: 0.1185, rTicks: [-0.10, -0.05, 0, 0.05, 0.10],
    badge: 'Loop #2'
});
timeSeriesPanel({
    rect: { left: 97, top: 770, width: 453, height: 273 },
    margin: { left: 80, right: 110, top: 30, bottom: 62 },
    start: loop3Start, fit: loop3Fit, amp: loop3Amp, err: loop3Err, bgTime: loop3BgTime, bgValue: loop3BgValue,
    tMin: 614.11, tMax: 640.95, timeTicks: timeTicks23,
    yMin: 5.404, yMax: 5.851, yTicks: [5.5, 5.6, 5.7, 5.8], yDigits: 1,
    rMin: -0.1117, rMax: 0.1696, rTicks: [-0.10, -0.05, 0, 0.05, 0.10, 0.15],
    badge: 'Loop #3',
    xTitle: 'Date/Time'
});

waveletPanel({
    rect: { left: 772, top: 118, width: 453, height: 272 },
    margin: { left: 100, right: 16, top: 30, bottom: 36 },
    tMin: 561.14, tMax: 590.785, timeTicks: timeTicks1, yMin: 4.477, yMax: 10.926,
    bandTops: wav1BandTops, bandLevels: wav1BandLevels, contours: wav1Contours, coi: wav1Coi,
    signif: wav1Signif, peak: wav1Peak, hatchAnchor: [49.7, 5.3]
});
waveletPanel({
    rect: { left: 772, top: 444, width: 453, height: 272 },
    margin: { left: 100, right: 16, top: 30, bottom: 36 },
    tMin: 614.11, tMax: 640.95, timeTicks: timeTicks23, yMin: 4.465, yMax: 10.80,
    bandTops: wav2BandTops, bandLevels: wav2BandLevels, contours: wav2Contours, coi: wav2Coi,
    signif: wav2Signif, peak: wav2Peak, hatchAnchor: [24.7, 2.7]
});
waveletPanel({
    rect: { left: 772, top: 770, width: 453, height: 273 },
    margin: { left: 100, right: 16, top: 30, bottom: 62 },
    tMin: 614.11, tMax: 640.95, timeTicks: timeTicks23, yMin: 4.44, yMax: 10.81,
    bandTops: wav3BandTops, bandLevels: wav3BandLevels, contours: wav3Contours, coi: wav3Coi,
    signif: wav3Signif, hatchAnchor: [49.7, 1.7], xTitle: 'Date/Time'
});

spectrumPanel({
    rect: { left: 1248, top: 118, width: 180, height: 272 },
    margin: { left: 10, right: 14, top: 118, bottom: 36 },
    yMin: 4.477, yMax: 10.926,
    cwtPeriod: spec1CwtPeriod, cwtAmp: spec1CwtAmp, sigPeriod: spec1SigPeriod, sigAmp: spec1SigAmp,
    noisePeriod: spec1NoisePeriod, noiseAmp: spec1NoiseAmp, fftPeriod: spec1FftPeriod, fftAmp: spec1FftAmp,
    extra: [ctx => {
        legendFrame(ctx, 1248, 7.5, 180, 104);
        legendLine(ctx, 1253.5, 1288, 21.7, '#858585', 1.9);
        legendText(ctx, '2*|FFT|/N', 1301.7, 21.7);
        legendLine(ctx, 1253.5, 1288, 46.7, '#8a8a8a', 3, [9, 5]);
        legendText(ctx, 'Noise model', 1301.7, 46.7);
        legendLine(ctx, 1253.5, 1288, 71.7, INK, 3);
        legendText(ctx, 'CWT', 1301.7, 71.7);
        legendLine(ctx, 1253.5, 1288, 96.7, INK, 3, [9, 6]);
        legendText(ctx, '95.0% signif', 1301.7, 96.7);
    }]
});
spectrumPanel({
    rect: { left: 1248, top: 444, width: 180, height: 272 },
    margin: { left: 10, right: 14, top: 30, bottom: 36 },
    yMin: 4.465, yMax: 10.80,
    cwtPeriod: spec2CwtPeriod, cwtAmp: spec2CwtAmp, sigPeriod: spec2SigPeriod, sigAmp: spec2SigAmp,
    noisePeriod: spec2NoisePeriod, noiseAmp: spec2NoiseAmp, fftPeriod: spec2FftPeriod, fftAmp: spec2FftAmp
});
spectrumPanel({
    rect: { left: 1248, top: 770, width: 180, height: 273 },
    margin: { left: 10, right: 14, top: 30, bottom: 65 },
    yMin: 4.44, yMax: 10.81,
    cwtPeriod: spec3CwtPeriod, cwtAmp: spec3CwtAmp, sigPeriod: spec3SigPeriod, sigAmp: spec3SigAmp,
    noisePeriod: spec3NoisePeriod, noiseAmp: spec3NoiseAmp, fftPeriod: spec3FftPeriod, fftAmp: spec3FftAmp,
    xTitle: 'Amplitude [(Mm)]'
});
</script>
</body>
</html>
